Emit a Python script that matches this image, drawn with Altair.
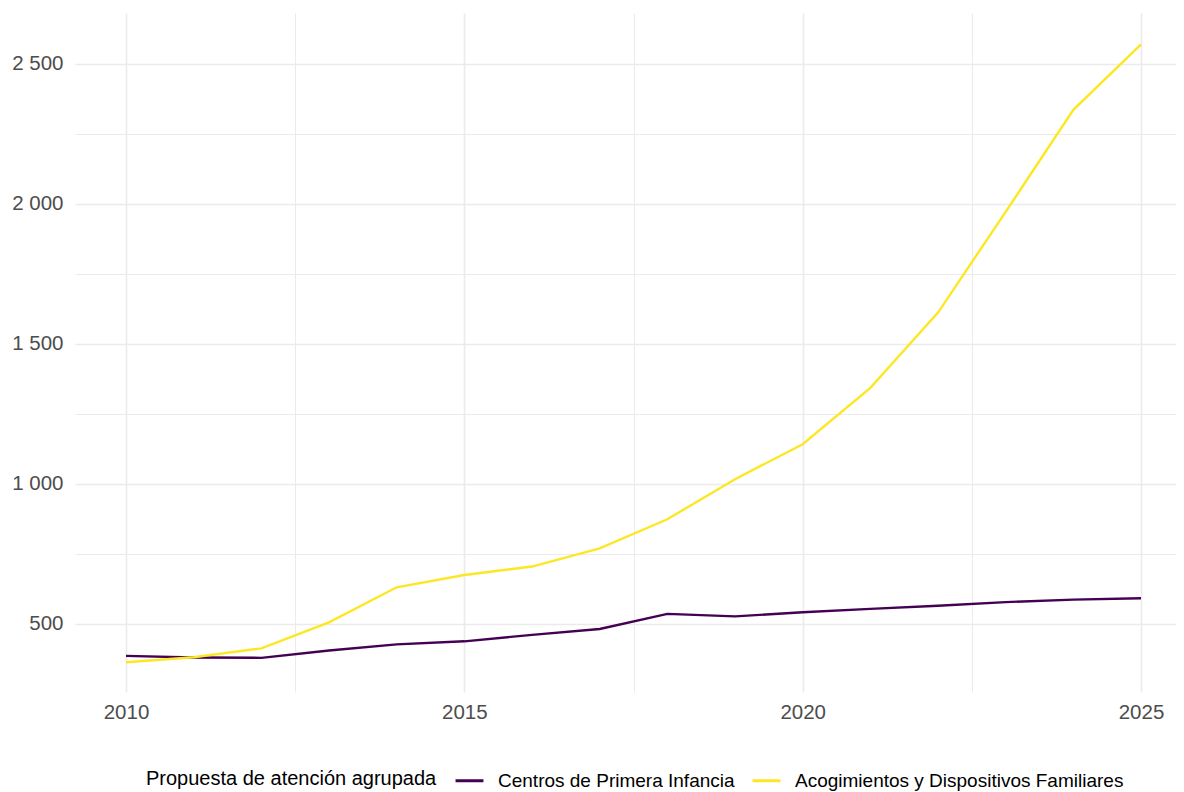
import altair as alt
import pandas as pd

years = list(range(2010, 2026))
series_names = ["Centros de Primera Infancia", "Acogimientos y Dispositivos Familiares"]
centros = [386, 380, 379, 405, 427, 438, 461, 482, 536, 527, 542, 554, 565, 578, 587, 592]
acogimientos = [363, 381, 413, 506, 631, 675, 705, 770, 874, 1017, 1142, 1343, 1612, 1972, 2336, 2570]
colors = ["#440154", "#FDE725"]

x_ticks = [2010, 2012.5, 2015, 2017.5, 2020, 2022.5, 2025]
y_ticks = [500, 750, 1000, 1250, 1500, 1750, 2000, 2250, 2500]

rows = []
for name, vals in zip(series_names, [centros, acogimientos]):
    for yr, v in zip(years, vals):
        rows.append({"anio": yr, "valor": v, "grupo": name})
df = pd.DataFrame(rows)

FONT = "Liberation Sans"

chart = (
    alt.Chart(df)
    .mark_line(strokeWidth=2.4, clip=True)
    .encode(
        x=alt.X(
            "anio:Q",
            scale=alt.Scale(domain=[2009.246, 2025.517], nice=False, zero=False),
            axis=alt.Axis(
                values=x_ticks,
                labelExpr="datum.value % 5 == 0 ? toString(datum.value) : ''",
                title=None,
                domain=False,
                ticks=False,
                labelFontSize=20.5,
                labelColor="#4D4D4D",
                labelFont=FONT,
                labelPadding=10,
                grid=True,
                gridColor="#EBEBEB",
                gridWidth={"condition": {"test": "datum.value % 5 == 0", "value": 1.6}, "value": 1.0},
            ),
        ),
        y=alt.Y(
            "valor:Q",
            scale=alt.Scale(domain=[257, 2682], nice=False, zero=False),
            axis=alt.Axis(
                values=y_ticks,
                labelExpr="datum.value % 500 == 0 ? replace(format(datum.value, ','), ',', ' ') : ''",
                title=None,
                domain=False,
                ticks=False,
                labelFontSize=20.5,
                labelColor="#4D4D4D",
                labelFont=FONT,
                labelPadding=12,
                grid=True,
                gridColor="#EBEBEB",
                gridWidth={"condition": {"test": "datum.value % 500 == 0", "value": 1.6}, "value": 1.0},
            ),
        ),
        color=alt.Color(
            "grupo:N",
            scale=alt.Scale(domain=series_names, range=colors),
            sort=series_names,
            legend=alt.Legend(
                title="Propuesta de atención agrupada",
                orient="none",
                direction="horizontal",
                legendX=71,
                legendY=755,
                titleOrient="left",
                titleFontSize=20,
                titleFontWeight="normal",
                titleFont=FONT,
                titleColor="#000000",
                titlePadding=20,
                titleLimit=600,
                labelFontSize=19,
                labelFont=FONT,
                labelColor="#000000",
                labelOffset=16,
                labelLimit=600,
                columnPadding=11,
                symbolType="M-1.27,0H1.27",
                symbolSize=484,
                symbolStrokeWidth=3,
            ),
        ),
        order=alt.Order("grupo:N", sort="descending"),
    )
    .properties(
        width=1101,
        height=679,
        background="white",
        padding={"left": 67, "top": 5, "right": 0, "bottom": 99},
        autosize=alt.AutoSizeParams(type="none"),
    )
    .configure_view(strokeWidth=0)
)

chart.save("out.html", embed_options={"renderer": "svg", "actions": False})
